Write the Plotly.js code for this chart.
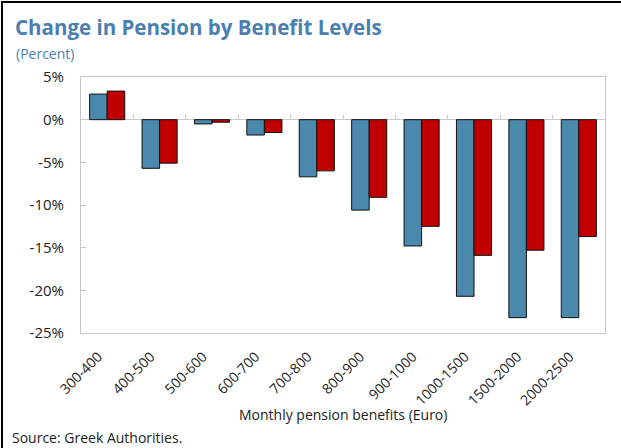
<!DOCTYPE html>
<html>
<head>
<meta charset="utf-8">
<script src="https://cdn.plot.ly/plotly-3.0.1.min.js"></script>
<style>
  html, body { margin: 0; padding: 0; background: #fff; }
  #wrap { position: relative; width: 621px; height: 448px; }
  #chart { width: 621px; height: 448px; }
  #frame { position: absolute; left: 1px; top: 1px; right: 0; bottom: 0;
           border-left: 2px solid #000; border-top: 2px solid #000; pointer-events: none; }
</style>
</head>
<body>
<div id="wrap">
  <div id="chart"></div>
  <div id="frame"></div>
</div>
<script>
const categories = ['300-400','400-500','500-600','600-700','700-800','800-900','900-1000','1000-1500','1500-2000','2000-2500'];
const seriesBlue = [3.0, -5.7, -0.5, -1.8, -6.7, -10.6, -14.8, -20.7, -23.2, -23.2];
const seriesRed  = [3.35, -5.1, -0.3, -1.5, -6.0, -9.1, -12.5, -15.9, -15.3, -13.7];
const zeroRow    = [0, 0, 0, 0, 0, 0, 0, 0, 0, 0];
const yTickVals  = [5, 0, -5, -10, -15, -20, -25];
const yTickText  = ['5%', '0%', '-5%', '-10%', '-15%', '-20%', '-25%'];
const yRange = [-25, 5];

const font = 'Open Sans, Noto Sans, sans-serif';
const titleBlue = '#4a7fb0';

const traces = [
  { type: 'bar', x: categories, y: seriesBlue, name: 'A',
    marker: { color: '#4a89ac', line: { color: '#111', width: 1 } }, hoverinfo: 'x+y' },
  { type: 'bar', x: categories, y: seriesRed, name: 'B',
    marker: { color: '#c00000', line: { color: '#111', width: 1 } }, hoverinfo: 'x+y' },
  { type: 'scatter', mode: 'none', x: categories, y: zeroRow, xaxis: 'x2', yaxis: 'y',
    showlegend: false, hoverinfo: 'skip' }
];

const zeroPos = (0 - yRange[0]) / (yRange[1] - yRange[0]);

const layout = {
  width: 621, height: 448,
  margin: { l: 81, r: 16, t: 77, b: 115 },
  paper_bgcolor: '#fff', plot_bgcolor: '#fff',
  showlegend: false,
  barmode: 'group', bargap: 0.33, bargroupgap: 0,
  font: { family: font, color: '#222', size: 14 },
  title: { text: 'Change in Pension by Benefit Levels', xref: 'container', yref: 'container',
           x: 15/621, xanchor: 'left', y: 1 - 28/448, yanchor: 'middle',
           font: { family: font, size: 20.5, color: titleBlue, weight: 'bold' } },
  xaxis: { type: 'category', range: [-0.5, 9.5], showline: true, mirror: true, linecolor: '#c8c8c8', linewidth: 1,
           ticks: '', tickangle: -45, tickfont: { size: 14, color: '#222' }, showgrid: false, zeroline: false,
           ticklabelstandoff: 9, ticklabelshift: -9 },
  xaxis2: { type: 'category', overlaying: 'x', anchor: 'free', position: zeroPos, range: [-0.5, 9.5],
            ticks: 'inside', tickson: 'boundaries', ticklen: 5, tickcolor: '#c8c8c8', tickwidth: 1,
            showticklabels: false, showline: false, showgrid: false, zeroline: false },
  yaxis: { range: yRange, tickmode: 'array', tickvals: yTickVals, ticktext: yTickText,
           showline: true, mirror: true, linecolor: '#c8c8c8', linewidth: 1,
           ticks: 'inside', ticklen: 5, tickcolor: '#c8c8c8', showgrid: false,
           zeroline: true, zerolinecolor: '#c8c8c8', zerolinewidth: 1,
           ticklabelstandoff: 13,
           tickfont: { size: 15, color: '#222' } },
  annotations: [
    { text: '(Percent)', xref: 'paper', yref: 'paper', x: (14-81)/524, y: (333-53)/256,
      xanchor: 'left', yanchor: 'middle', showarrow: false, font: { size: 14, color: titleBlue } },
    { text: 'Monthly pension benefits (Euro)', xref: 'paper', yref: 'paper', x: 0.5, y: (333-414)/256,
      xanchor: 'center', yanchor: 'middle', showarrow: false, font: { size: 14, color: '#222' } },
    { text: 'Source: Greek Authorities.', xref: 'paper', yref: 'paper', x: (10-81)/524, y: (333-437)/256,
      xanchor: 'left', yanchor: 'middle', showarrow: false, font: { size: 14, color: '#222' } }
  ]
};

Plotly.newPlot('chart', traces, layout, { displayModeBar: false, staticPlot: true });
</script>
</body>
</html>
